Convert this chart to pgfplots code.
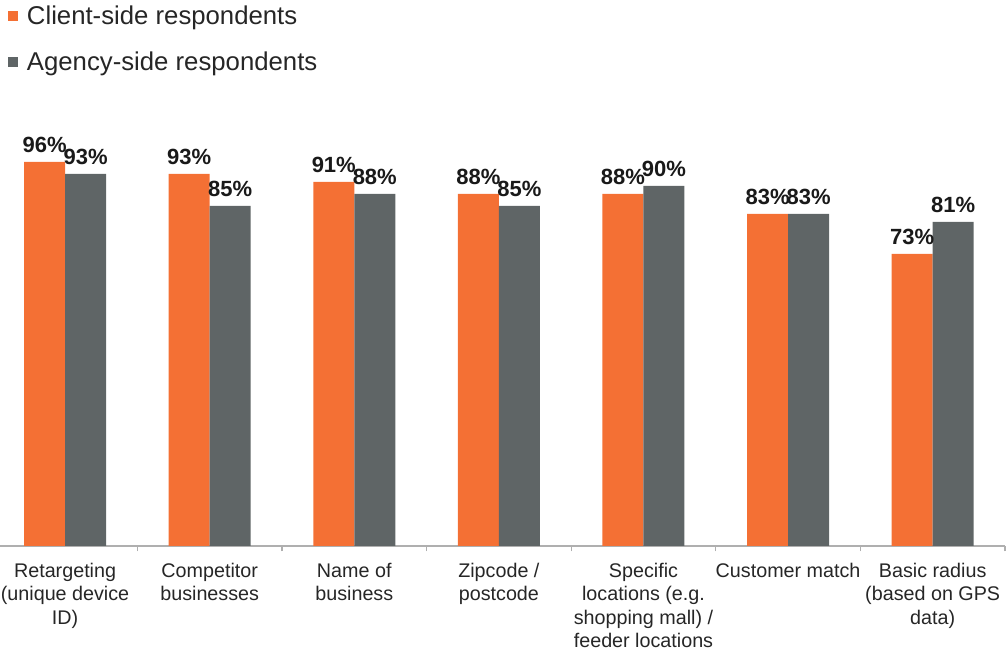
\documentclass[border=0pt]{standalone}
\usepackage{pgfplots}
\pgfplotsset{compat=1.18}
\usepackage{fontspec}
\setmainfont{Liberation Sans}
\definecolor{corange}{RGB}{244,112,52}
\definecolor{cgray}{RGB}{95,101,102}
\definecolor{axgray}{RGB}{175,175,175}
\begin{document}
\begin{tikzpicture}
\begin{axis}[
  name=ax,
  scale only axis,
  width=753.75pt, height=300pt,
  xmin=-0.45, xmax=6.5,
  ymin=0, ymax=100,
  axis y line=none,
  axis x line*=bottom,
  x axis line style={-, draw=axgray, line width=0.8pt},
  ybar=0pt,
  bar width=30.75pt,
  xtick={0,...,6},
  xticklabels={{Retargeting\\(unique device\\ID)},{Competitor\\businesses},{Name of\\business},{Zipcode /\\postcode},{Specific\\locations (e.g.\\shopping mall) /\\feeder locations},{Customer match},{Basic radius\\(based on GPS\\data)}},
  major x tick style={draw=none},
  minor xtick={0.5,1.5,...,6.5},
  minor x tick style={draw=axgray, line width=0.8pt},
  minor tick length=4pt,
  tick align=outside,
  xticklabel style={font=\fontsize{14.8}{17.6}\selectfont, align=center, text=black!85, yshift=-5pt},
  /pgf/number format/assume math mode=true,
  nodes near coords={\pgfmathprintnumber{\pgfplotspointmeta}\%},
  every node near coord/.append style={font=\fontsize{16.5}{18}\selectfont\bfseries, text=black!90, inner sep=3pt, yshift=4pt},
  clip=false,
  legend style={at={(rel axis cs:0.008,1.352)}, anchor=north west, draw=none, fill=none,
    font=\fontsize{19.3}{21}\selectfont, text=black!85, row sep=19pt, inner sep=0pt,
    nodes={inner sep=0pt, anchor=west}},
  legend cell align=left,
  legend image code/.code={\fill[#1] (0pt,-3.6pt) rectangle (7pt,3.4pt);},
]
\addplot[fill=corange, draw=none] coordinates {(0,96) (1,93) (2,91) (3,88) (4,88) (5,83) (6,73)};
\addlegendentry{\hspace{7pt}Client-side respondents}
\addplot[fill=cgray, draw=none] coordinates {(0,93) (1,85) (2,88) (3,85) (4,90) (5,83) (6,81)};
\addlegendentry{\hspace{7pt}Agency-side respondents}
\end{axis}
\pgfresetboundingbox
\path[use as bounding box] ([yshift=-79.5pt]ax.south west) rectangle ([xshift=2.25pt,yshift=109.5pt]ax.north east);
\end{tikzpicture}
\end{document}
